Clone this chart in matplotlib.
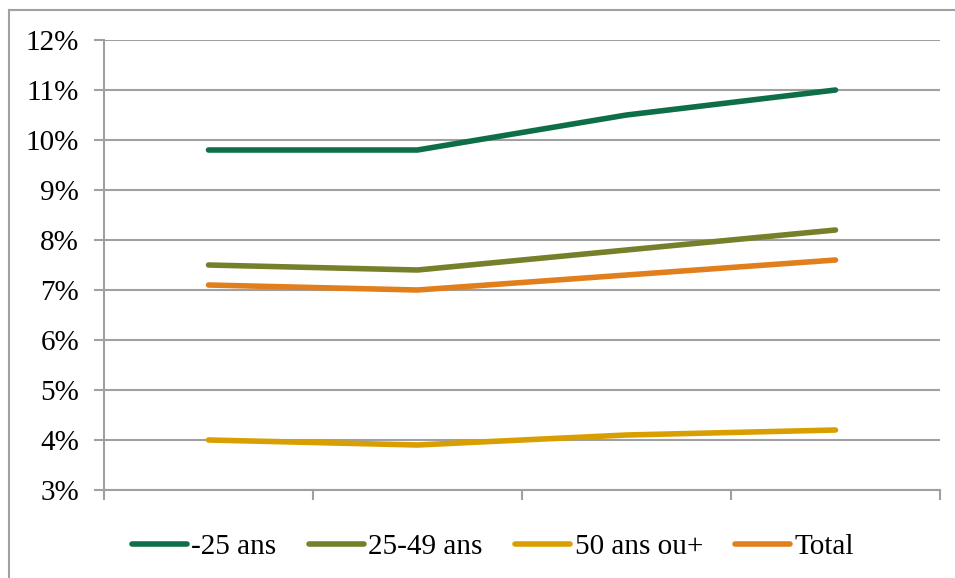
import matplotlib
matplotlib.use("Agg")
import matplotlib.pyplot as plt
from matplotlib.patches import Rectangle
from matplotlib.ticker import FuncFormatter, MultipleLocator

plt.rcParams['font.family'] = ['Liberation Serif', 'DejaVu Serif']

# donnees
periodes = [1, 2, 3, 4]
moins25 = [9.8, 9.8, 10.5, 11.0]
de25a49 = [7.5, 7.4, 7.8, 8.2]
plus50 = [4.0, 3.9, 4.1, 4.2]
total = [7.1, 7.0, 7.3, 7.6]

series = [
    ("-25 ans", moins25, "#0d6e47"),
    ("25-49 ans", de25a49, "#76802a"),
    ("50 ans ou+", plus50, "#d99e00"),
    ("Total", total, "#e07f1c"),
]

W, H = 955, 578
fig = plt.figure(figsize=(W / 100, H / 100), dpi=100)
ax = fig.add_axes([104 / W, 1 - 490 / H, 836 / W, 450 / H])

for nom, vals, col in series:
    ax.plot(periodes, vals, color=col, lw=4.0, label=nom,
            solid_capstyle="round", solid_joinstyle="round")

gris = "#a0a0a0"
ax.set_xlim(0.5, 4.5)
ax.set_ylim(3, 12)
ax.yaxis.set_major_locator(MultipleLocator(1))
ax.yaxis.set_major_formatter(FuncFormatter(lambda v, p: f"{v:.0f}%"))
ax.set_xticks([0.5, 1.5, 2.5, 3.5, 4.5])
ax.set_xticklabels([])
ax.grid(axis="y", color=gris, lw=1.5)
ax.set_axisbelow(True)
for s in ["top", "right"]:
    ax.spines[s].set_visible(False)
for s in ["left", "bottom"]:
    ax.spines[s].set_color(gris)
    ax.spines[s].set_linewidth(1.5)
ax.tick_params(axis="both", color=gris, width=1.5, length=7, labelsize=21)
ax.tick_params(axis="y", pad=11)

fig.legend(loc="center", bbox_to_anchor=(493 / W, 1 - 547 / H), ncol=4,
           frameon=False, fontsize=21, handlelength=1.9, handletextpad=0.15,
           columnspacing=1.1)

# cadre du graphique
fig.patches.append(Rectangle((9 / W, -0.1), 1.2, 1.1 - 10 / H, transform=fig.transFigure,
                             fill=False, edgecolor=gris, lw=1.5))

fig.savefig("out.png", dpi=100)
